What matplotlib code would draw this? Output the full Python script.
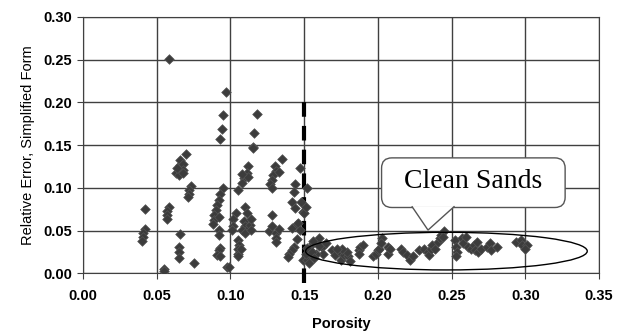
import numpy as np
import matplotlib
matplotlib.use("Agg")
import matplotlib.pyplot as plt
from matplotlib.patches import Ellipse, FancyBboxPatch, Polygon

plt.rcParams['font.family'] = ['Liberation Sans', 'DejaVu Sans']

# porosidad vs error relativo
porosity = [
    0.042, 0.042, 0.041, 0.041, 0.040, 0.058, 0.055, 0.055, 0.058, 0.057, 0.057, 0.057,
    0.066, 0.065, 0.065, 0.065, 0.075,
    0.063, 0.065, 0.066, 0.066, 0.068, 0.068, 0.070, 0.068, 0.064,
    0.073, 0.072, 0.072, 0.071,
    0.097, 0.095, 0.094, 0.093,
    0.095, 0.093, 0.092, 0.091, 0.090, 0.089, 0.089, 0.088, 0.092, 0.092, 0.092,
    0.093, 0.092, 0.091, 0.093, 0.098, 0.099,
    0.105, 0.104, 0.102, 0.102, 0.101,
    0.105, 0.106, 0.105, 0.105, 0.105, 0.107,
    0.110, 0.111, 0.109, 0.110, 0.111, 0.113, 0.108, 0.110, 0.114, 0.114,
    0.112, 0.111, 0.109, 0.108, 0.112, 0.108,
    0.118, 0.116, 0.115, 0.115,
    0.130, 0.131, 0.129, 0.128, 0.127, 0.128, 0.135, 0.133,
    0.128, 0.126, 0.128, 0.131, 0.131, 0.131, 0.133,
    0.147, 0.144, 0.143, 0.142, 0.144, 0.142, 0.145, 0.146, 0.147,
    0.145, 0.143, 0.142, 0.140, 0.139,
    0.148, 0.149, 0.150, 0.151, 0.152, 0.149,
    0.160, 0.156, 0.153, 0.154, 0.152, 0.162, 0.163, 0.158, 0.151,
    0.152, 0.155, 0.153, 0.157, 0.160, 0.156, 0.165,
    0.169, 0.171, 0.174, 0.175, 0.177, 0.180, 0.181, 0.179, 0.176, 0.172,
    0.187, 0.188, 0.190, 0.187, 0.197, 0.199, 0.200, 0.201, 0.203, 0.202, 0.207, 0.207, 0.208,
    0.216, 0.217, 0.220, 0.222, 0.224,
    0.228, 0.231, 0.234, 0.235, 0.236, 0.237, 0.239, 0.241, 0.242, 0.243, 0.245, 0.244,
    0.252, 0.253, 0.254, 0.253, 0.257, 0.258, 0.260, 0.261, 0.263, 0.265, 0.267, 0.266,
    0.268, 0.270, 0.274, 0.276, 0.277, 0.281,
    0.294, 0.297, 0.298, 0.301, 0.300,
]
rel_error = [
    0.075, 0.052, 0.047, 0.042, 0.038, 0.251, 0.005, 0.003, 0.077, 0.073, 0.068, 0.063,
    0.046, 0.031, 0.025, 0.018, 0.012,
    0.117, 0.115, 0.127, 0.133, 0.128, 0.121, 0.140, 0.117, 0.123,
    0.102, 0.097, 0.093, 0.089,
    0.212, 0.185, 0.169, 0.157,
    0.100, 0.093, 0.086, 0.080, 0.074, 0.068, 0.062, 0.058, 0.066, 0.051, 0.045,
    0.030, 0.027, 0.021, 0.020, 0.008, 0.007,
    0.097, 0.071, 0.063, 0.055, 0.051,
    0.039, 0.033, 0.028, 0.023, 0.020, 0.029,
    0.078, 0.070, 0.061, 0.055, 0.051, 0.057, 0.051, 0.047, 0.064, 0.051,
    0.125, 0.117, 0.111, 0.106, 0.113, 0.116,
    0.186, 0.164, 0.148, 0.146,
    0.126, 0.120, 0.115, 0.109, 0.104, 0.100, 0.134, 0.119,
    0.068, 0.050, 0.055, 0.047, 0.041, 0.037, 0.052,
    0.123, 0.104, 0.095, 0.084, 0.076, 0.053, 0.058, 0.059, 0.051,
    0.040, 0.031, 0.027, 0.023, 0.019,
    0.084, 0.072, 0.070, 0.078, 0.100, 0.016,
    0.041, 0.035, 0.029, 0.020, 0.016, 0.031, 0.023, 0.023, 0.023,
    0.030, 0.025, 0.012, 0.018, 0.032, 0.038, 0.035,
    0.027, 0.021, 0.025, 0.016, 0.021, 0.020, 0.014, 0.025, 0.029, 0.029,
    0.027, 0.031, 0.033, 0.023, 0.020, 0.023, 0.027, 0.029, 0.041, 0.035, 0.031, 0.023, 0.028,
    0.029, 0.025, 0.021, 0.016, 0.020,
    0.027, 0.029, 0.025, 0.021, 0.028, 0.033, 0.029, 0.037, 0.041, 0.045, 0.049, 0.042,
    0.039, 0.031, 0.025, 0.020, 0.041, 0.035, 0.043, 0.031, 0.029, 0.033, 0.037, 0.027,
    0.025, 0.029, 0.031, 0.035, 0.027, 0.031,
    0.037, 0.039, 0.033, 0.033, 0.029,
]

x_ticks = [0.00, 0.05, 0.10, 0.15, 0.20, 0.25, 0.30, 0.35]
y_ticks = [0.00, 0.05, 0.10, 0.15, 0.20, 0.25, 0.30]
cutoff = 0.15

fig = plt.figure(figsize=(6.24, 3.35), dpi=100)
ax = fig.add_axes([0.133, 0.184, 0.827, 0.766])

ax.set_xlim(0, 0.35)
ax.set_ylim(0, 0.30)
ax.set_xticks(x_ticks)
ax.set_yticks(y_ticks)
ax.set_xticklabels(["%.2f" % v for v in x_ticks], fontsize=10.5, fontweight='bold')
ax.set_yticklabels(["%.2f" % v for v in y_ticks], fontsize=10.5, fontweight='bold')
ax.grid(True, color='#404040', lw=1)
ax.set_axisbelow(True)
for s in ax.spines.values():
    s.set_color('#404040')
ax.tick_params(length=4, color='#404040')
ax.tick_params(axis='x', pad=7)
ax.tick_params(axis='y', pad=4)

ax.set_xlabel("Porosity", fontsize=10.5, fontweight='bold', labelpad=10)
ax.set_ylabel("Relative Error, Simplified Form", fontsize=10.5, labelpad=6)

# linea de corte
ax.plot([cutoff, cutoff], [-0.011, 0.21], color='black', lw=3, dashes=(3.5, 2.2),
        clip_on=False, zorder=3)

ax.scatter(porosity, rel_error, marker='D', s=24, color='#3c3c3c',
           edgecolor='#555555', linewidth=0.5, zorder=4)

# elipse y globo
ell = Ellipse((0.2465, 0.026), width=0.191, height=0.044, fill=False,
              ec='black', lw=1, zorder=5)
ax.add_patch(ell)

asp = 1466.6 / 856
box = FancyBboxPatch((0.2025, 0.077), 0.1245, 0.058,
                     boxstyle="round,pad=0,rounding_size=0.007",
                     mutation_aspect=asp, fc='white', ec='#555555', lw=1, zorder=6)
ax.add_patch(box)
tail = Polygon([(0.223, 0.0785), (0.234, 0.0506), (0.252, 0.0785)], closed=False,
               fc='white', ec='#555555', lw=1, zorder=7)
ax.add_patch(tail)
ax.text(0.2646, 0.107, "Clean Sands", fontsize=20, family='Liberation Serif',
        ha='center', va='center', zorder=8)

fig.savefig("out.png", dpi=100)
